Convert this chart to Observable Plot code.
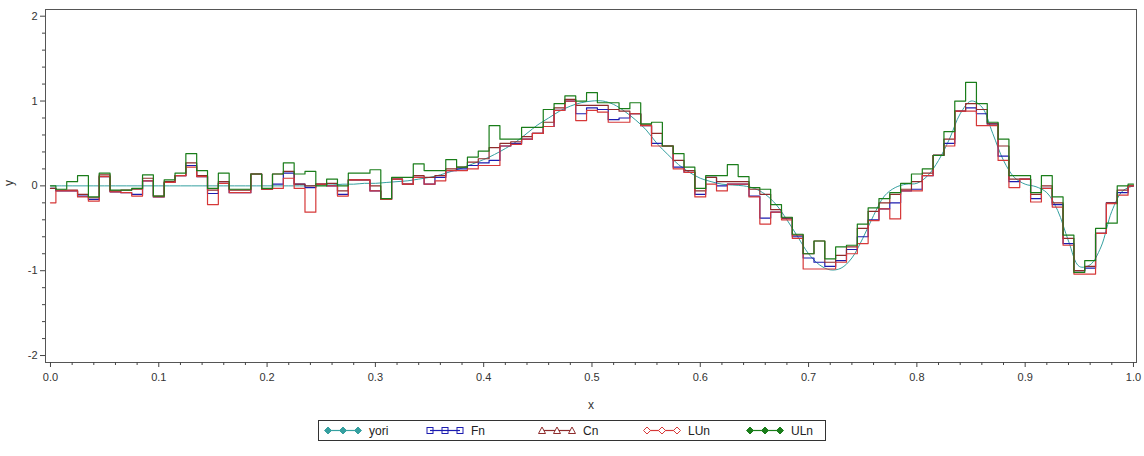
<!DOCTYPE html>
<html><head><meta charset="utf-8">
<script src="https://cdn.jsdelivr.net/npm/d3@7"></script>
<script src="https://cdn.jsdelivr.net/npm/@observablehq/plot@0.6"></script>
<style>
body{margin:0;background:#fff;font-family:Arial,"Liberation Sans",sans-serif;}
#chart{width:1144px;height:415px;}
#legend{position:absolute;left:318px;top:420px;width:508px;height:21px;}
</style></head><body>
<div id="chart"></div><div id="legend"></div>
<script>
const xs = [0.00,0.01,0.02,0.03,0.04,0.05,0.06,0.07,0.08,0.09,0.10,0.11,0.12,0.13,0.14,0.15,0.16,0.17,0.18,0.19,
0.20,0.21,0.22,0.23,0.24,0.25,0.26,0.27,0.28,0.29,0.30,0.31,0.32,0.33,0.34,0.35,0.36,0.37,0.38,0.39,
0.40,0.41,0.42,0.43,0.44,0.45,0.46,0.47,0.48,0.49,0.50,0.51,0.52,0.53,0.54,0.55,0.56,0.57,0.58,0.59,
0.60,0.61,0.62,0.63,0.64,0.65,0.66,0.67,0.68,0.69,0.70,0.71,0.72,0.73,0.74,0.75,0.76,0.77,0.78,0.79,
0.80,0.81,0.82,0.83,0.84,0.85,0.86,0.87,0.88,0.89,0.90,0.91,0.92,0.93,0.94,0.95,0.96,0.97,0.98,0.99,1.00];

const yori = [0,0,0,0,0,0,0,0,0,0,0,0,0,0,0,0,0,0,0,0,
0,0,0,0,0,0.01,0.01,0.02,0.02,0.03,0.03,0.04,0.05,0.06,0.08,0.10,0.13,0.17,0.21,0.26,
0.31,0.37,0.44,0.52,0.62,0.72,0.80,0.88,0.94,0.98,1.00,1.00,0.96,0.88,0.78,0.66,0.50,0.37,0.25,0.16,
0.09,0.05,0.02,0.01,0.00,-0.03,-0.10,-0.22,-0.40,-0.60,-0.80,-0.93,-0.99,-0.97,-0.85,-0.62,-0.35,-0.12,-0.02,0.02,
0.03,0.12,0.30,0.55,0.85,1.00,0.93,0.62,0.30,0.10,0.02,-0.01,-0.08,-0.29,-0.65,-0.95,-0.93,-0.72,-0.30,-0.06,0.00];

const Fn = [-0.03,-0.06,-0.06,-0.12,-0.16,0.11,-0.07,-0.08,-0.10,0.06,-0.13,0.04,0.12,0.24,0.11,-0.09,0.03,-0.08,-0.08,0.14,
-0.04,0.02,0.15,0.02,-0.02,0.02,0.00,-0.10,0.07,0.07,-0.06,-0.16,0.08,0.02,0.10,0.02,0.10,0.18,0.20,0.24,
0.27,0.30,0.47,0.50,0.55,0.62,0.70,0.89,1.00,0.85,0.92,0.90,0.78,0.80,0.85,0.71,0.50,0.47,0.22,0.16,
-0.10,0.10,0.00,0.02,0.02,-0.12,-0.38,-0.31,-0.38,-0.60,-0.85,-0.90,-0.95,-0.88,-0.75,-0.60,-0.40,-0.27,-0.20,-0.06,
-0.04,0.12,0.36,0.50,0.88,0.92,0.85,0.73,0.35,0.05,0.08,-0.15,-0.03,-0.22,-0.68,-1.00,-0.97,-0.56,-0.20,-0.08,0.00];

const Cn = [-0.03,-0.05,-0.05,-0.10,-0.14,0.13,-0.06,-0.05,-0.04,0.09,-0.12,0.05,0.12,0.27,0.12,-0.05,0.05,-0.05,-0.05,0.14,
-0.04,0.14,0.17,0.02,0.00,0.02,0.03,-0.06,0.07,0.07,0.00,-0.15,0.08,0.02,0.12,0.10,0.12,0.20,0.22,0.28,
0.32,0.45,0.50,0.52,0.58,0.62,0.75,0.92,1.02,0.95,0.95,0.95,0.90,0.88,0.85,0.72,0.62,0.47,0.30,0.18,
-0.06,0.10,0.05,0.05,0.05,-0.04,-0.10,-0.28,-0.38,-0.58,-0.80,-0.65,-0.90,-0.82,-0.72,-0.50,-0.30,-0.20,-0.10,-0.04,
0.05,0.15,0.36,0.55,0.88,0.97,0.90,0.73,0.47,0.08,0.08,-0.10,0.00,-0.20,-0.62,-1.00,-0.95,-0.56,-0.20,-0.05,0.00];

const LUn = [-0.20,-0.06,-0.06,-0.13,-0.18,0.11,-0.07,-0.08,-0.12,0.06,-0.13,0.04,0.12,0.22,0.11,-0.22,0.03,-0.08,-0.08,0.14,
-0.04,-0.03,0.09,-0.03,-0.31,0.02,0.00,-0.12,0.07,0.07,-0.06,-0.16,0.08,0.02,0.10,0.02,0.06,0.18,0.18,0.20,
0.24,0.24,0.47,0.49,0.55,0.62,0.70,0.89,1.00,0.77,0.89,0.87,0.75,0.75,0.85,0.71,0.47,0.47,0.20,0.16,
-0.13,0.02,-0.06,0.02,0.02,-0.13,-0.45,-0.31,-0.40,-0.62,-0.98,-0.98,-0.98,-0.90,-0.80,-0.68,-0.41,-0.27,-0.39,-0.06,
-0.06,0.12,0.36,0.47,0.88,0.88,0.71,0.71,0.30,-0.02,0.08,-0.19,-0.03,-0.25,-0.70,-1.04,-1.04,-0.56,-0.21,-0.11,0.00];

const ULn = [0.00,-0.04,0.05,0.12,-0.13,0.15,-0.05,-0.05,-0.03,0.13,-0.12,0.07,0.15,0.38,0.18,-0.03,0.15,-0.04,-0.04,0.14,
-0.03,0.14,0.27,0.14,0.17,0.00,0.08,0.00,0.15,0.15,0.19,-0.15,0.10,0.10,0.26,0.18,0.18,0.31,0.22,0.34,
0.41,0.71,0.55,0.55,0.69,0.69,0.90,0.97,1.06,1.00,1.10,0.98,0.98,0.91,0.98,0.73,0.75,0.47,0.38,0.22,
-0.03,0.12,0.12,0.25,0.11,-0.02,-0.04,-0.22,-0.37,-0.57,-0.80,-0.65,-0.86,-0.72,-0.70,-0.45,-0.26,-0.15,-0.08,0.03,
0.14,0.20,0.36,0.64,1.00,1.22,0.97,0.75,0.55,0.12,0.12,-0.08,0.12,-0.13,-0.58,-1.02,-0.88,-0.50,-0.44,0.00,0.02];

const seriesNames = ["yori","Fn","Cn","LUn","ULn"];
const seriesColors = ["#35a0a0","#1c1cb0","#8e2c2c","#d63838","#1a7d1a"];
const xTicks = [0,0.1,0.2,0.3,0.4,0.5,0.6,0.7,0.8,0.9,1.0];
const xTickLabels = ["0.0","0.1","0.2","0.3","0.4","0.5","0.6","0.7","0.8","0.9","1.0"];
const yTicks = [-2,-1,0,1,2];
const yTickLabels = ["-2","-1","0","1","2"];
const xMinor = [0.02,0.04,0.06,0.08,0.12,0.14,0.16,0.18,0.22,0.24,0.26,0.28,0.32,0.34,0.36,0.38,0.42,0.44,0.46,0.48,
0.52,0.54,0.56,0.58,0.62,0.64,0.66,0.68,0.72,0.74,0.76,0.78,0.82,0.84,0.86,0.88,0.92,0.94,0.96,0.98];
const yMinor = [-1.8,-1.6,-1.4,-1.2,-0.8,-0.6,-0.4,-0.2,0.2,0.4,0.6,0.8,1.2,1.4,1.6,1.8];

const rows = (arr) => xs.map((x, i) => ({x, y: arr[i]}));
const color = Object.fromEntries(seriesNames.map((n, i) => [n, seriesColors[i]]));
const xLab = new Map(xTicks.map((t, i) => [t, xTickLabels[i]]));
const yLab = new Map(yTicks.map((t, i) => [t, yTickLabels[i]]));

const plot = Plot.plot({
  width: 1144, height: 415,
  marginLeft: 45, marginRight: 8, marginTop: 9, marginBottom: 53,
  style: {fontFamily: "Arial, 'Liberation Sans', sans-serif", fontSize: "11px", color: "#333", background: "#fff"},
  x: {domain: [-0.0046, 1.0028]},
  y: {domain: [-2.082, 2.079]},
  marks: [
    Plot.line(rows(yori), {x: "x", y: "y", stroke: color.yori, strokeWidth: 1, curve: "catmull-rom"}),
    Plot.line(rows(Fn), {x: "x", y: "y", stroke: color.Fn, strokeWidth: 1.2, curve: "step"}),
    Plot.line(rows(Cn), {x: "x", y: "y", stroke: color.Cn, strokeWidth: 1.2, curve: "step"}),
    Plot.line(rows(LUn), {x: "x", y: "y", stroke: color.LUn, strokeWidth: 1.2, curve: "step"}),
    Plot.line(rows(ULn), {x: "x", y: "y", stroke: color.ULn, strokeWidth: 1.2, curve: "step"}),
    Plot.frame({stroke: "#555"}),
    Plot.axisX(xTicks, {tickSize: 5, tickPadding: 6, tickFormat: d => xLab.get(d), label: null, stroke: "#444"}),
    Plot.axisX(xMinor, {tickSize: 3, tickFormat: () => "", label: null, stroke: "#444"}),
    Plot.axisY(yTicks, {tickSize: 5, tickPadding: 3, tickFormat: d => yLab.get(d), label: null, stroke: "#444"}),
    Plot.axisY(yMinor, {tickSize: 3, tickFormat: () => "", label: null, stroke: "#444"}),
    Plot.text(["x"], {frameAnchor: "bottom", dy: 46, text: d => d, fontSize: 12, fill: "#333"}),
    Plot.text(["y"], {frameAnchor: "left", dx: -36, rotate: -90, text: d => d, fontSize: 12, fill: "#333"})
  ]
});
document.getElementById("chart").appendChild(plot);

// legend
const shapes = ["diamondFill", "square", "triangle", "diamond", "diamondFill"];
const itemX = [10, 112, 224, 329, 432];
const lg = d3.select("#legend").append("svg").attr("width", 508).attr("height", 21)
  .style("font-family", "Arial, 'Liberation Sans', sans-serif");
lg.append("rect").attr("x", 0.5).attr("y", 0.5).attr("width", 507).attr("height", 20)
  .attr("fill", "#fff").attr("stroke", "#333");
seriesNames.forEach((name, i) => {
  const g = lg.append("g").attr("transform", `translate(${itemX[i]},10.5)`);
  const c = seriesColors[i];
  g.append("line").attr("x1", 0).attr("x2", 30).attr("y1", 0).attr("y2", 0).attr("stroke", c).attr("stroke-width", 1.2);
  [0, 15, 30].forEach(px => {
    const s = shapes[i];
    if (s === "diamondFill" || s === "diamond") {
      g.append("path").attr("d", `M${px},-3.5L${px+3.5},0L${px},3.5L${px-3.5},0Z`)
        .attr("fill", s === "diamondFill" ? c : "#fff").attr("stroke", c);
    } else if (s === "square") {
      g.append("rect").attr("x", px - 3).attr("y", -3).attr("width", 6).attr("height", 6)
        .attr("fill", "none").attr("stroke", c);
    } else {
      g.append("path").attr("d", `M${px},-3.5L${px+3.5},3L${px-3.5},3Z`).attr("fill", "#fff").attr("stroke", c);
    }
  });
  g.append("text").attr("x", 41).attr("y", 4).attr("font-size", 12).attr("fill", "#222").text(name);
});
</script>
</body></html>
